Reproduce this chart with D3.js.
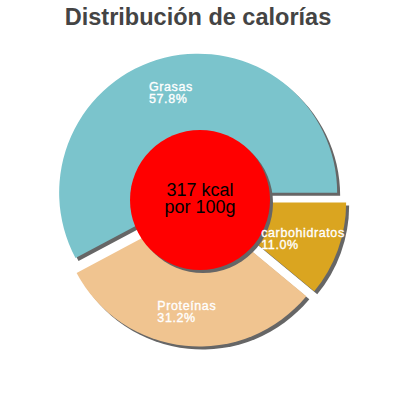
<!DOCTYPE html>
<html>
<head>
<meta charset="utf-8">
<script src="https://cdn.jsdelivr.net/npm/d3@7"></script>
<style>
  body { margin: 0; background: #fff; }
  svg { display: block; font-family: "Liberation Sans", Arial, sans-serif; }
</style>
</head>
<body>
<script>
var categories = ["Grasas", "Proteínas", "carbohidratos"];
var values = [57.8, 31.2, 11.0];
var pctLabels = ["57.8%", "31.2%", "11.0%"];
var colors = ["#7bc4cc", "#f0c490", "#daa520"];
var centerLines = ["317 kcal", "por 100g"];
var title = "Distribución de calorías";

var width = 400, height = 400;
var cx = 200, cy = 200;
var radius = 139, innerR = 70;
var explode = 7.6;   // desplazamiento de cada porción
var labelR = 104;
var shadow = 3;

var svg = d3.select("body").append("svg").attr("width", width).attr("height", height);

svg.append("text")
  .attr("x", 198).attr("y", 25)
  .attr("text-anchor", "middle")
  .attr("font-size", "23.5px").attr("font-weight", "bold")
  .attr("fill", "#444")
  .text(title);

// empieza a las 3 en punto y va en sentido antihorario
var pie = d3.pie().sort(null)
  .startAngle(Math.PI / 2)
  .endAngle(Math.PI / 2 - 2 * Math.PI);
var arcs = pie(values);
var arc = d3.arc().innerRadius(0).outerRadius(radius);

function offset(d, r) {
  var mid = (d.startAngle + d.endAngle) / 2;
  return [Math.sin(mid) * r, -Math.cos(mid) * r];
}

var g = svg.append("g").attr("transform", "translate(" + cx + "," + cy + ")");

// sombras
g.selectAll("path.shadow").data(arcs).enter().append("path")
  .attr("class", "shadow")
  .attr("fill", "#666")
  .attr("transform", function (d) {
    var o = offset(d, explode);
    return "translate(" + (o[0] + shadow) + "," + (o[1] + shadow) + ")";
  })
  .attr("d", arc);

g.selectAll("path.slice").data(arcs).enter().append("path")
  .attr("class", "slice")
  .attr("fill", function (d, i) { return colors[i]; })
  .attr("transform", function (d) {
    var o = offset(d, explode);
    return "translate(" + o[0] + "," + o[1] + ")";
  })
  .attr("d", arc);

// círculo central
g.append("circle").attr("cx", shadow).attr("cy", shadow).attr("r", innerR).attr("fill", "#666");
g.append("circle").attr("r", innerR).attr("fill", "#ff0000");

g.selectAll("text.center").data(centerLines).enter().append("text")
  .attr("class", "center")
  .attr("text-anchor", "middle")
  .attr("y", function (d, i) { return -4 + i * 17; })
  .attr("font-size", "18px")
  .attr("fill", "#000")
  .text(function (d) { return d; });

// etiquetas
arcs.forEach(function (d, i) {
  var o = offset(d, explode);
  var p = offset(d, labelR);
  var ax = o[0] + p[0], ay = o[1] + p[1];
  var lg = g.append("g").attr("fill", "#fff")
    .attr("stroke", "#fff").attr("stroke-width", 0.35)
    .attr("font-size", "12.5px")
    .attr("letter-spacing", "0.6px");
  var t1 = lg.append("text").attr("y", ay - 1).text(categories[i]);
  var w = t1.node().getComputedTextLength();
  t1.attr("x", ax - w / 2 - 2);
  lg.append("text").attr("x", ax - w / 2 - 2).attr("y", ay + 11).text(pctLabels[i]);
});
</script>
</body>
</html>
